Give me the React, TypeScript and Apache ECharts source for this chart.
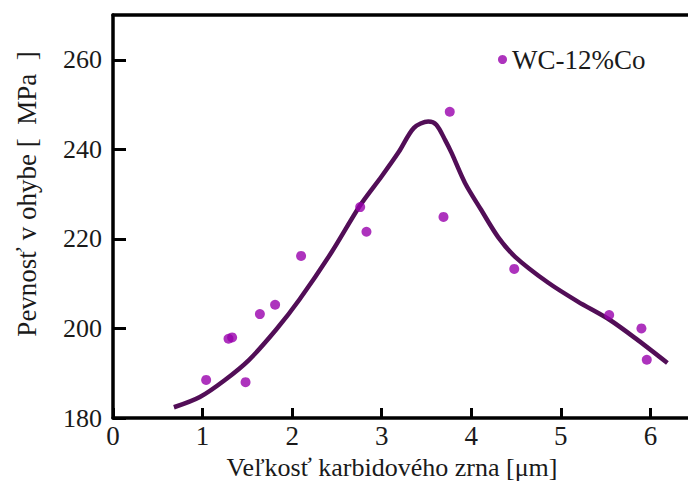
import React, { useEffect, useRef } from "react";
import * as echarts from "echarts";

const seriesName = "WC-12%Co";
const xTitle = "Veľkosť karbidového zrna [μm]";
const yTitle = "Pevnosť v ohybe [  MPa  ]";

const pointsX = [1.04, 1.29, 1.33, 1.48, 1.64, 1.81, 2.1, 2.76, 2.83, 3.69, 3.76, 4.48, 5.54, 5.9, 5.96];
const pointsY = [188.5, 197.7, 198.0, 188.0, 203.2, 205.3, 216.2, 227.1, 221.6, 224.9, 248.4, 213.3, 203.0, 200.0, 193.0];

const curveX = [0.68, 0.97, 1.25, 1.52, 1.82, 2.08, 2.44, 2.76, 3.0, 3.19, 3.36, 3.52, 3.61, 3.71, 3.78, 3.93, 4.11, 4.3, 4.49, 4.86, 5.19, 5.54, 5.86, 6.19];
const curveY = [182.4, 184.7, 188.5, 193.0, 199.7, 206.4, 217.0, 227.5, 234.0, 239.4, 244.8, 246.2, 245.5, 242.0, 239.2, 232.5, 226.5, 220.4, 216.0, 210.2, 206.0, 202.0, 197.4, 192.3];

const FONT = "Liberation Serif, Times New Roman, serif";

export default function App() {
  const ref = useRef<HTMLDivElement>(null);
  useEffect(() => {
    if (!ref.current) return;
    const chart = echarts.init(ref.current, undefined, { renderer: "svg" });
    const pts = pointsX.map((x, i) => [x, pointsY[i]]);
    const curve = curveX.map((x, i) => [x, curveY[i]]);
    chart.setOption({
      animation: false,
      backgroundColor: "#ffffff",
      textStyle: { fontFamily: FONT },
      grid: { left: 113, right: 0, top: 15, bottom: 66 },
      legend: {
        data: [{ name: seriesName, icon: "circle" }],
        left: 493,
        top: 41,
        itemWidth: 9,
        itemHeight: 9,
        itemGap: 4,
        textStyle: { fontFamily: FONT, fontSize: 27, color: "#1a1a1a" },
      },
      xAxis: [
        {
          type: "value",
          min: 0,
          max: 6.42,
          interval: 1,
          axisLine: { show: true, lineStyle: { color: "#000", width: 3.5 } },
          axisTick: { show: true, inside: true, length: 10, lineStyle: { color: "#000", width: 3 } },
          axisLabel: {
            showMaxLabel: false,
            margin: 4,
            fontFamily: FONT,
            fontSize: 27,
            color: "#1a1a1a",
            formatter: (v: number) => (Number.isInteger(v) ? String(v) : ""),
          },
          splitLine: { show: false },
        },
        {
          type: "value",
          position: "top",
          min: 0,
          max: 6.42,
          axisLine: { show: true, onZero: false, lineStyle: { color: "#000", width: 3.5 } },
          axisTick: { show: false },
          axisLabel: { show: false },
          splitLine: { show: false },
        },
      ],
      yAxis: {
        type: "value",
        min: 180,
        max: 270,
        interval: 20,
        axisLine: { show: true, lineStyle: { color: "#000", width: 3.5 } },
        axisTick: { show: true, inside: true, length: 13, lineStyle: { color: "#000", width: 3 } },
        axisLabel: {
          showMaxLabel: false,
          margin: 11,
          fontFamily: FONT,
          fontSize: 26,
          color: "#1a1a1a",
          formatter: (v: number) => (v % 20 === 0 ? String(v) : ""),
        },
        splitLine: { show: false },
      },
      graphic: [
        {
          type: "text",
          x: 392,
          y: 467,
          style: {
            text: xTitle,
            fontFamily: FONT,
            fontSize: 26,
            fill: "#1a1a1a",
            align: "center",
            verticalAlign: "middle",
          },
        },
        {
          type: "text",
          x: 27,
          y: 194,
          rotation: Math.PI / 2,
          style: {
            text: yTitle,
            fontFamily: FONT,
            fontSize: 27,
            fill: "#1a1a1a",
            align: "center",
            verticalAlign: "middle",
          },
        },
      ],
      series: [
        {
          name: "curve",
          type: "line",
          xAxisIndex: 0,
          data: curve,
          smooth: 0.3,
          showSymbol: false,
          symbol: "none",
          lineStyle: { color: "#520e57", width: 4.5 },
          z: 2,
        },
        {
          name: seriesName,
          type: "scatter",
          xAxisIndex: 0,
          data: pts,
          symbol: "circle",
          symbolSize: 10,
          itemStyle: { color: "#9800ac" },
          z: 3,
        },
      ],
    });
    return () => chart.dispose();
  }, []);
  return (
    <div
      ref={ref}
      style={{ position: "absolute", left: 0, top: 0, width: 688, height: 484 }}
    />
  );
}
